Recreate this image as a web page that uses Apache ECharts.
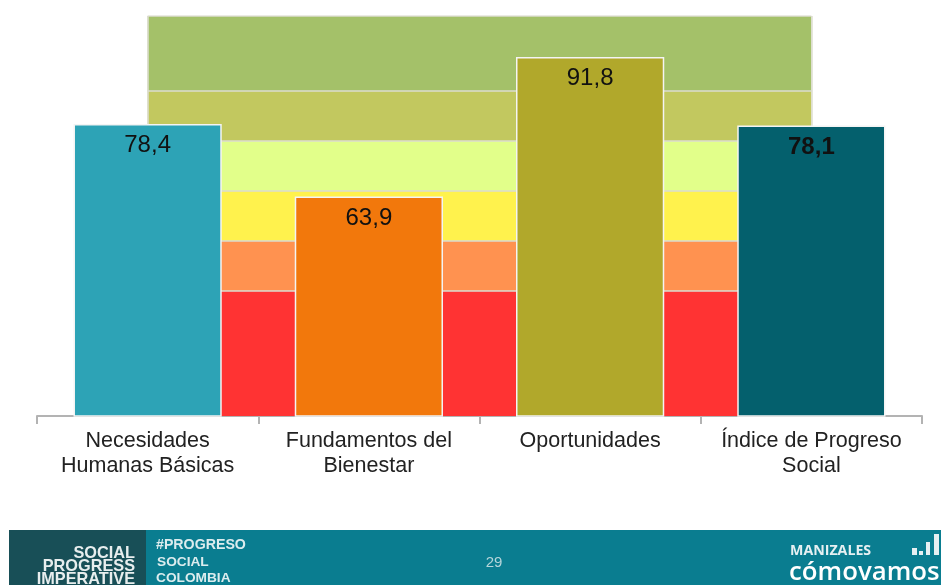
<!DOCTYPE html>
<html>
<head>
<meta charset="utf-8">
<style>
  html, body { margin: 0; padding: 0; background: #fff; }
  #chart { width: 941px; height: 585px; }
</style>
<script src="https://cdn.jsdelivr.net/npm/echarts@6/dist/echarts.min.js"></script>
</head>
<body>
<div id="chart"></div>
<script>
var categories = ['Necesidades\nHumanas Básicas', 'Fundamentos del\nBienestar', 'Oportunidades', 'Índice de Progreso\nSocial'];
var values = [78.4, 63.9, 91.8, 78.1];
var barColors = ['#2DA3B6', '#F2780C', '#B1A82B', '#04606D'];
// bandas de fondo: cuanto suma cada una al apilado (el eje empieza en 20)
var bandSizes = [45, 10, 10, 10, 10, 15];
var bandColors = ['#FF3333', '#FF9250', '#FFF24D', '#E2FF8A', '#C2C85F', '#A4C169'];

var font = '"Liberation Sans", Arial, sans-serif';
var series = [];

bandSizes.forEach(function (size, i) {
  var s = {
    type: 'line',
    stack: 'bandas',
    symbol: 'none',
    silent: true,
    z: 1,
    data: categories.map(function () { return size; }),
    lineStyle: { color: '#dcdcd0', width: 1.5 },
    areaStyle: { color: bandColors[i], opacity: 1 }
  };
  if (i === bandSizes.length - 1) {
    s.markLine = {
      silent: true,
      symbol: 'none',
      label: { show: false },
      lineStyle: { color: '#dcdcd0', width: 1.5, type: 'solid' },
      data: [{ xAxis: 0 }, { xAxis: 3 }]
    };
  }
  series.push(s);
});

series.push({
  type: 'bar',
  z: 5,
  barWidth: '67%',
  data: values.map(function (v, i) {
    return {
      value: v,
      itemStyle: { color: barColors[i], borderColor: '#f4f4f4', borderWidth: 1.5 },
      label: { fontWeight: i === 3 ? 'bold' : 'normal' }
    };
  }),
  label: {
    show: true,
    position: 'insideTop',
    distance: 9.5,
    fontFamily: font,
    fontSize: 24,
    color: '#111',
    formatter: function (p) { return String(p.value).replace('.', ','); }
  }
});

function footerText(x, y, text, fontStr, fill, align) {
  return { type: 'text', x: x, y: y, style: { text: text, font: fontStr, fill: fill, textAlign: align || 'left', textVerticalAlign: 'middle' } };
}

var chart = echarts.init(document.getElementById('chart'));
chart.setOption({
  animation: false,
  backgroundColor: '#fff',
  grid: { left: 37, right: 19, top: 16, bottom: 169 },
  xAxis: {
    type: 'category',
    data: categories,
    axisLine: { lineStyle: { color: '#b3b3b3', width: 2 } },
    axisTick: { show: true, length: 8, lineStyle: { color: '#b3b3b3', width: 2 } },
    axisLabel: { interval: 0, fontFamily: font, fontSize: 21.5, lineHeight: 25, color: '#222', margin: 13 }
  },
  yAxis: { type: 'value', min: 20, max: 100, show: false, splitLine: { show: false } },
  series: series,
  graphic: [
    { type: 'rect', shape: { x: 9, y: 530, width: 137, height: 55 }, style: { fill: '#184F57' } },
    { type: 'rect', shape: { x: 146, y: 530, width: 795, height: 55 }, style: { fill: '#0A7D90' } },
    footerText(135, 554, 'SOCIAL', 'bold 16.3px ' + font, '#e8eeee', 'right'),
    footerText(135, 567, 'PROGRESS', 'bold 16.3px ' + font, '#e8eeee', 'right'),
    footerText(135, 580, 'IMPERATIVE', 'bold 16.3px ' + font, '#e8eeee', 'right'),
    footerText(156, 545, '#PROGRESO', 'bold 14.2px ' + font, '#dcecee'),
    footerText(157, 562, 'SOCIAL', 'bold 13.7px ' + font, '#dcecee'),
    footerText(156, 578, 'COLOMBIA', 'bold 13.7px ' + font, '#dcecee'),
    footerText(494, 563, '29', '15px ' + font, '#b5d5da', 'center'),
    footerText(790, 551, 'MANIZALES', 'bold 14.2px "Open Sans", ' + font, '#e6f0f2'),
    footerText(789, 573, 'cómovamos', '600 25.8px "Open Sans", ' + font, '#ffffff'),
    { type: 'rect', shape: { x: 912, y: 548, width: 5, height: 7 }, style: { fill: '#e6f0f2' } },
    { type: 'rect', shape: { x: 919, y: 551, width: 4, height: 4 }, style: { fill: '#e6f0f2' } },
    { type: 'rect', shape: { x: 926, y: 542, width: 4, height: 13 }, style: { fill: '#e6f0f2' } },
    { type: 'rect', shape: { x: 934, y: 534, width: 5, height: 21 }, style: { fill: '#e6f0f2' } }
  ]
});
</script>
</body>
</html>
